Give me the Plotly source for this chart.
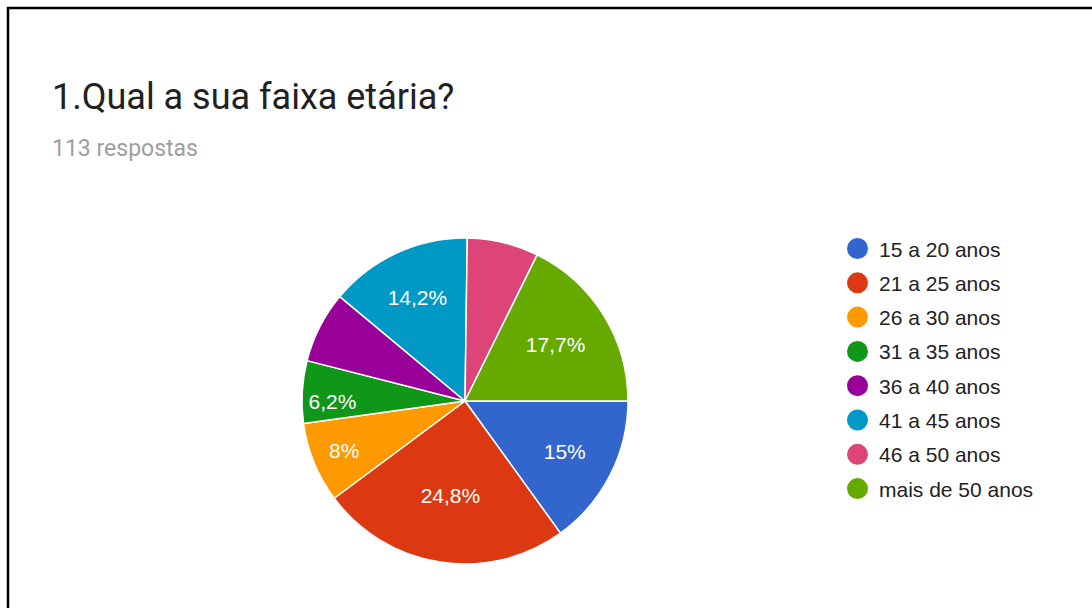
import plotly.graph_objects as go

# Survey answers: age groups and number of responses
categories = ["15 a 20 anos", "21 a 25 anos", "26 a 30 anos", "31 a 35 anos",
              "36 a 40 anos", "41 a 45 anos", "46 a 50 anos", "mais de 50 anos"]
counts = [17, 28, 9, 7, 8, 16, 8, 20]
show_label = [True, True, True, True, False, True, False, True]
colors = ["#3366cc", "#dc3912", "#ff9900", "#109618",
          "#990099", "#0099c6", "#dd4477", "#66aa00"]

title_text = "1.Qual a sua faixa etária?"
total = sum(counts)
subtitle_text = f"{total} respostas"

W, H = 1092, 608


def pct_label(v):
    s = f"{100 * v / total:.1f}"
    if s.endswith(".0"):
        s = s[:-2]
    return s.replace(".", ",") + "%"


texts = [pct_label(v) if show else "" for v, show in zip(counts, show_label)]

# pie geometry in pixels
cx, cy, r = 465, 401, 163

fig = go.Figure(go.Pie(
    labels=categories,
    values=counts,
    text=texts,
    textinfo="text",
    textposition="inside",
    insidetextorientation="horizontal",
    textfont=dict(family="Liberation Sans, Arial", size=21, color="white"),
    marker=dict(colors=colors, line=dict(color="white", width=1.5)),
    sort=False,
    direction="clockwise",
    rotation=90,
    showlegend=False,
    hoverinfo="label+percent",
    domain=dict(x=[(cx - r) / W, (cx + r) / W],
                y=[1 - (cy + r) / H, 1 - (cy - r) / H]),
))

annotations = [
    dict(text=title_text, x=50 / W, y=1 - 97 / H, xref="paper", yref="paper",
         xanchor="left", yanchor="middle", showarrow=False,
         font=dict(family="Roboto", size=36, color="#212121")),
    dict(text=subtitle_text, x=50 / W, y=1 - 149 / H, xref="paper", yref="paper",
         xanchor="left", yanchor="middle", showarrow=False,
         font=dict(family="Roboto", size=23, color="#9e9e9e")),
]

shapes = [
    # frame lines along top and left edges
    dict(type="line", xref="paper", yref="paper",
         x0=7 / W, x1=1, y0=1 - 8 / H, y1=1 - 8 / H,
         line=dict(color="black", width=2.5)),
    dict(type="line", xref="paper", yref="paper",
         x0=8 / W, x1=8 / W, y0=0, y1=1 - 7 / H,
         line=dict(color="black", width=2.5)),
]

# legend: colored dots with labels
leg_x, leg_y0, leg_dy, dot_r = 857.5, 248.5, 34.3, 10.5
for i, (name, col) in enumerate(zip(categories, colors)):
    y = leg_y0 + i * leg_dy
    shapes.append(dict(type="circle", xref="paper", yref="paper",
                       x0=(leg_x - dot_r) / W, x1=(leg_x + dot_r) / W,
                       y0=1 - (y + dot_r) / H, y1=1 - (y - dot_r) / H,
                       fillcolor=col, line=dict(width=0)))
    annotations.append(dict(text=name, x=877 / W, y=1 - (y + 0.5) / H,
                            xref="paper", yref="paper",
                            xanchor="left", yanchor="middle", showarrow=False,
                            font=dict(family="Liberation Sans, Arial", size=21,
                                      color="#222222")))

fig.update_layout(
    width=W, height=H,
    margin=dict(l=0, r=0, t=0, b=0),
    paper_bgcolor="white",
    plot_bgcolor="white",
    annotations=annotations,
    shapes=shapes,
)

fig.write_html("out.html")
